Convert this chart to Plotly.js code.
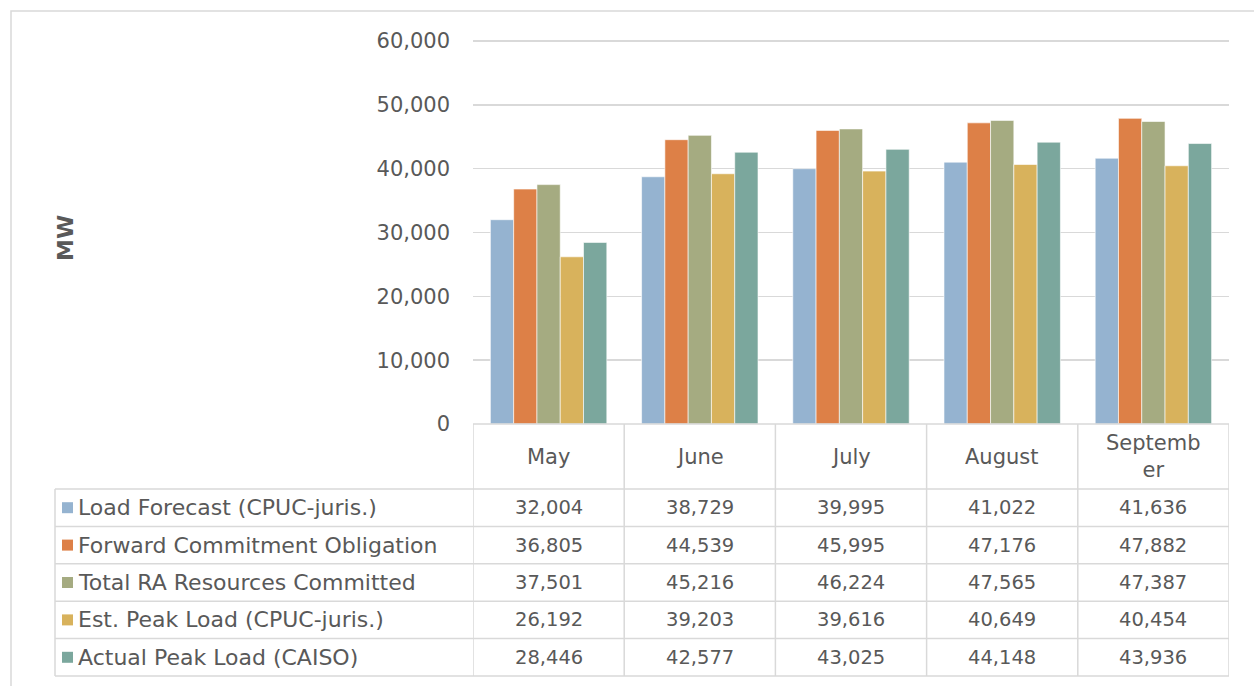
<!DOCTYPE html>
<html lang="en">
<head>
    <meta charset="utf-8">
    <script src="https://cdn.plot.ly/plotly-3.0.1.min.js"></script>
    <title>RA Summer Comparison</title>
    <style>
        body { margin: 0; background: #fff; }
        #divChart { width: 1254px; height: 686px; }
    </style>
</head>
<body>
<div id="divChart"></div>
<script>
    var months = ['May', 'June', 'July', 'August', 'September'];
    var seriesNames = ['Load Forecast (CPUC-juris.)', 'Forward Commitment Obligation',
                       'Total RA Resources Committed', 'Est. Peak Load (CPUC-juris.)', 'Actual Peak Load (CAISO)'];
    var loadForecast = [32004, 38729, 39995, 41022, 41636];
    var forwardObligation = [36805, 44539, 45995, 47176, 47882];
    var totalRA = [37501, 45216, 46224, 47565, 47387];
    var estPeak = [26192, 39203, 39616, 40649, 40454];
    var actualPeak = [28446, 42577, 43025, 44148, 43936];
    var colors = ['#95b3d0', '#dd8047', '#a5ab81', '#d8b25c', '#7ba79d'];

    var W = 1254, H = 686;
    function px(x) { return x / W; }
    function py(y) { return 1 - y / H; }

    var allSeries = [loadForecast, forwardObligation, totalRA, estPeak, actualPeak];
    var textColor = '#595959';
    var lineColor = '#d9d9d9';
    var fontFam = 'DejaVu Sans, sans-serif';

    var data = [];
    for (var s = 0; s < allSeries.length; s++) {
        data.push({
            type: 'bar',
            name: seriesNames[s],
            x: months,
            y: allSeries[s],
            marker: {color: colors[s], line: {color: '#ffffff', width: 0.6}},
            showlegend: false
        });
    }

    // table lines, text and legend keys
    var shapes = [];
    var annotations = [];
    var tableTop = 424, headerBottom = 489, rowH = 37.4, labelLeft = 55, tableRight = 1229;

    // outer frame
    shapes.push({type: 'rect', xref: 'paper', yref: 'paper', x0: px(11), x1: px(1262), y0: py(11), y1: py(700),
                 line: {color: lineColor, width: 1.5}});
    // column lines
    for (var i = 0; i <= months.length; i++) {
        shapes.push({type: 'line', xref: 'x', yref: 'paper', x0: i - 0.5, x1: i - 0.5,
                     y0: py(tableTop), y1: py(headerBottom + rowH * 5), line: {color: lineColor, width: 1.5}});
    }
    shapes.push({type: 'line', xref: 'paper', yref: 'paper', x0: px(labelLeft), x1: px(labelLeft),
                 y0: py(headerBottom), y1: py(headerBottom + rowH * 5), line: {color: lineColor, width: 1.5}});
    // row lines
    shapes.push({type: 'line', xref: 'x', yref: 'paper', x0: -0.5, x1: months.length - 0.5,
                 y0: py(tableTop), y1: py(tableTop), line: {color: lineColor, width: 1.5}});
    for (var r = 0; r <= seriesNames.length; r++) {
        var yy = headerBottom + rowH * r;
        shapes.push({type: 'line', xref: 'paper', yref: 'paper', x0: px(labelLeft), x1: px(tableRight),
                     y0: py(yy), y1: py(yy), line: {color: lineColor, width: 1.5}});
    }

    // header months (Excel wraps the long one)
    for (var i = 0; i < months.length; i++) {
        var lbl = months[i].length > 8 ? months[i].slice(0, 7) + '<br>' + months[i].slice(7) : months[i];
        annotations.push({x: i, xref: 'x', y: py((tableTop + headerBottom) / 2), yref: 'paper',
                          xanchor: 'center', yanchor: 'middle',
                          text: lbl, showarrow: false, font: {family: fontFam, size: 21, color: textColor}});
    }
    // rows
    for (var s = 0; s < seriesNames.length; s++) {
        var cy = headerBottom + rowH * (s + 0.5);
        shapes.push({type: 'rect', xref: 'paper', yref: 'paper', x0: px(62), x1: px(73),
                     y0: py(cy - 5.5), y1: py(cy + 5.5), fillcolor: colors[s], line: {width: 0}});
        annotations.push({x: px(76), xref: 'paper', xanchor: 'left', y: py(cy), yref: 'paper', yanchor: 'middle',
                          text: seriesNames[s], showarrow: false, font: {family: fontFam, size: 22, color: textColor}});
        for (var i = 0; i < months.length; i++) {
            annotations.push({x: i, xref: 'x', y: py(cy), yref: 'paper', xanchor: 'center', yanchor: 'middle',
                              text: allSeries[s][i].toLocaleString('en-US'), showarrow: false,
                              font: {family: fontFam, size: 19.5, color: textColor}});
        }
    }
    // y axis title
    annotations.push({x: px(66), xref: 'paper', xanchor: 'center', y: py(238), yref: 'paper', yanchor: 'middle',
                      text: '<b>MW</b>', textangle: -90,
                      showarrow: false, font: {family: fontFam, size: 22, color: textColor}});

    // a little headroom above 60,000 so its gridline is drawn
    var yMax = 61000;
    var topPx = tableTop - (tableTop - 41) * yMax / 60000;

    var layout = {
        width: W, height: H,
        margin: {l: 0, r: 0, t: 0, b: 0},
        paper_bgcolor: '#ffffff', plot_bgcolor: '#ffffff',
        barmode: 'group', bargap: 0.23, bargroupgap: 0,
        font: {family: fontFam, color: textColor},
        xaxis: {domain: [px(473), px(tableRight)], range: [-0.5, months.length - 0.5],
                showticklabels: false, showgrid: false, zeroline: false, showline: false, fixedrange: true},
        yaxis: {domain: [py(tableTop), py(topPx)], range: [0, yMax], tick0: 0, dtick: 10000, tickformat: ',d',
                showgrid: true, gridcolor: lineColor, gridwidth: 1.5, zeroline: false, showline: false,
                ticklabelstandoff: 22, tickfont: {family: fontFam, size: 21, color: textColor}},
        shapes: shapes,
        annotations: annotations,
        showlegend: false
    };
    Plotly.newPlot('divChart', data, layout, {staticPlot: true});
</script>
</body>
</html>
